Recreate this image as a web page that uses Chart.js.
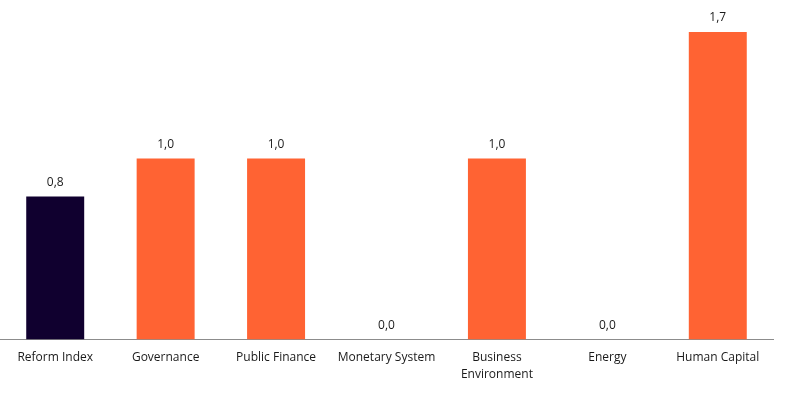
<!DOCTYPE html>
<html>
<head>
<meta charset="utf-8">
<script src="https://cdn.jsdelivr.net/npm/chart.js@4.4.1/dist/chart.umd.min.js"></script>
<style>
  html, body { margin: 0; padding: 0; background: #fff; }
  #wrap { width: 795px; height: 396px; position: relative; }
</style>
</head>
<body>
<div id="wrap"><canvas id="reform-chart"></canvas></div>
<script>
// Data
const categories = ['Reform Index', 'Governance', 'Public Finance', 'Monetary System', ['Business', 'Environment'], 'Energy', 'Human Capital'];
const values = [0.79, 1.0, 1.0, 0.0, 1.0, 0.0, 1.7];

const barColors = ['#10002f', '#ff6333', '#ff6333', '#ff6333', '#ff6333', '#ff6333', '#ff6333'];
const textColor = '#1a1a1a';
const fontFamily = '"Open Sans", "Noto Sans", sans-serif';

// draws "0,8" style labels over each bar
const valueLabels = {
    id: 'valueLabels',
    afterDatasetsDraw(chart) {
        const ctx = chart.ctx;
        const meta = chart.getDatasetMeta(0);
        ctx.save();
        ctx.font = '12px ' + fontFamily;
        ctx.fillStyle = textColor;
        ctx.textAlign = 'center';
        ctx.textBaseline = 'bottom';
        meta.data.forEach((bar, i) => {
            const txt = values[i].toFixed(1).replace('.', ',');
            ctx.fillText(txt, bar.x, bar.y - 8);
        });
        ctx.restore();
    }
};

new Chart(document.getElementById('reform-chart').getContext('2d'), {
    type: 'bar',
    data: {
        labels: categories,
        datasets: [{
            data: values,
            backgroundColor: barColors,
            borderWidth: 0,
            barPercentage: 0.525,
            categoryPercentage: 1,
        }]
    },
    options: {
        responsive: true,
        maintainAspectRatio: false,
        animation: false,
        layout: {
            padding: { top: 14, right: 22, bottom: 11, left: 0 }
        },
        plugins: {
            legend: { display: false },
            tooltip: { enabled: false }
        },
        scales: {
            x: {
                grid: { display: false },
                border: { display: true, color: '#8c8c8c', width: 1 },
                ticks: {
                    color: textColor,
                    font: { family: fontFamily, size: 12, lineHeight: 1.4 },
                    padding: 2,
                    maxRotation: 0,
                    autoSkip: false
                }
            },
            y: {
                display: false,
                min: 0,
                max: 1.8
            }
        }
    },
    plugins: [valueLabels]
});
</script>
</body>
</html>
